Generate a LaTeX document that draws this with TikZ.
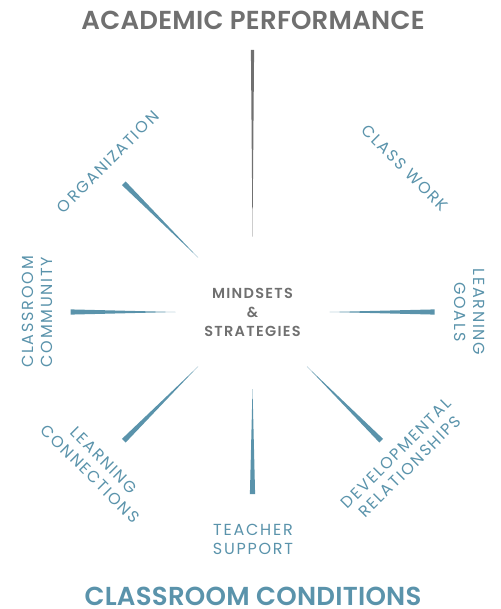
\documentclass[tikz,border=0pt]{standalone}
\usepackage{fontspec}
\setmainfont{Poppins}
\newfontfamily\labelfont{Poppins}[LetterSpace=11]
\newfontfamily\headfont{Poppins SemiBold}[LetterSpace=1]
\newfontfamily\hubfont{Poppins SemiBold}[LetterSpace=9]
\usetikzlibrary{positioning,calc}

\definecolor{csblue}{HTML}{5A93AB}
\definecolor{csgray}{HTML}{707070}

\begin{document}
\begin{tikzpicture}[x=1pt,y=-1pt,align=center,inner sep=0pt]
  \tikzstyle{spoke}=[fill=csblue]
  \tikzstyle{area}=[text=csblue,font=\labelfont\fontsize{16}{19}\selectfont]
  \tikzstyle{title}=[anchor=base,text depth=0pt,font=\headfont\fontsize{26}{28}\selectfont]

  \useasboundingbox (0,0) rectangle (500,609);
  \coordinate (hub) at (252.5,312);

  % Spokes
  \foreach \a in {0,45,...,225}
    \fill[spoke] ($(hub)+(\a:77)$) -- ($(hub)+(\a:182)+(\a+90:2.6)$)
      -- ($(hub)+(\a:182)+(\a-90:2.6)$) -- cycle;
  \fill[csgray] ($(hub)+(270:75)$) -- ($(hub)+(270:262)+(0:1.6)$)
      -- ($(hub)+(270:262)+(180:1.6)$) -- cycle;

  % Centre and titles
  \node[font=\hubfont\fontsize{14.5}{19}\selectfont,text=csgray] (mind) at (hub) {MINDSETS\\\&\\STRATEGIES};
  \node[title,text=csgray] (perf) at (253,30) {ACADEMIC PERFORMANCE};
  \node[title,text=csblue] (cond) at (253,605) {CLASSROOM CONDITIONS};

  % Conditions
  \node[area,rotate=45]  (org)  at (108,162) {ORGANIZATION};
  \node[area,rotate=-45] (work) at (405,168) {CLASS WORK};
  \node[area,rotate=90]  (comm) at (37,312)  {CLASSROOM\\COMMUNITY};
  \node[area,rotate=-90] (goal) at (470,312) {LEARNING\\GOALS};
  \node[area,rotate=-45] (conn) at (97,467)  {LEARNING\\CONNECTIONS};
  \node[area,rotate=45]  (rel)  at (403,460) {DEVELOPMENTAL\\RELATIONSHIPS};
  \node[area]            (tsup) at (253,539) {TEACHER\\SUPPORT};
\end{tikzpicture}
\end{document}
